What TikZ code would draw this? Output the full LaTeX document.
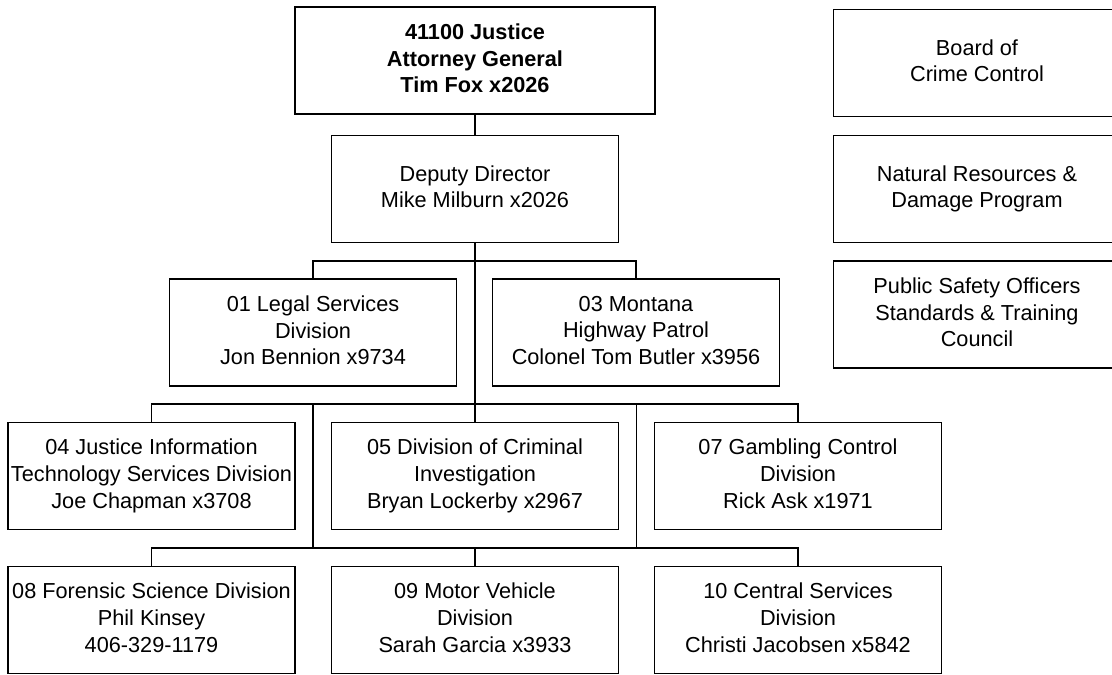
\documentclass[tikz,border=0pt]{standalone}
\usepackage{fontspec}
\setmainfont{Liberation Sans}
\newcommand\boxtopstrut{\rule{0pt}{25pt}}
\newcommand\boxbotstrut{\rule[-4.7pt]{0pt}{4.7pt}}
\begin{document}
\begin{tikzpicture}[x=1pt,y=-1pt,
  box/.style={draw, line width=1.1pt, minimum width=287pt, minimum height=107pt,
    inner sep=0pt, align=center, font=\fontsize{21.7}{26.7}\selectfont,
    execute at begin node=\boxtopstrut, execute at end node=\boxbotstrut},
  conn/.style={line width=1.1pt}]
\useasboundingbox (0,0) rectangle (1112,675);
\clip (0,0) rectangle (1112,675);
\fill[white] (0,0) rectangle (1112,675);
% top
\node[box, minimum width=360pt, font=\fontsize{21.7}{26.7}\selectfont\bfseries] (top) at (475,60.5)
  {41100 Justice\\Attorney General\\Tim Fox x2026};
\node[box] (dep) at (475,189) {Deputy Director\\Mike Milburn x2026};
\node[box] (leg) at (313,332.5) {01 Legal Services\\Division\\Jon Bennion x9734};
\node[box] (mon) at (636,332.5) {03 Montana\\Highway Patrol\\Colonel Tom Butler x3956};
% right column
\node[box] (bcc) at (977,63) {Board of\\Crime Control};
\node[box] (nrd) at (977,189) {Natural Resources \&\\Damage Program};
\node[box] (pso) at (977,314.5) {Public Safety Officers\\Standards \& Training\\Council};
% row 3
\node[box] (d04) at (151.5,476) {04 Justice Information\\Technology Services Division\\Joe Chapman x3708};
\node[box] (d05) at (475,476) {05 Division of Criminal\\Investigation\\Bryan Lockerby x2967};
\node[box] (d07) at (798,476) {07 Gambling Control\\Division\\Rick Ask x1971};
% row 4
\node[box] (d08) at (151.5,620) {08 Forensic Science Division\\Phil Kinsey\\406-329-1179};
\node[box] (d09) at (475,620) {09 Motor Vehicle\\Division\\Sarah Garcia x3933};
\node[box] (d10) at (798,620) {10 Central Services\\Division\\Christi Jacobsen x5842};
% bus coordinates
\coordinate (b1) at (475,261);
\coordinate (b2) at (475,404);
\coordinate (b3) at (475,548);
\coordinate (v1t) at (313,404);
\coordinate (v1b) at (313,548);
\coordinate (v2t) at (636.5,404);
\coordinate (v2b) at (636.5,548);
% connectors
\draw[conn] (top.south) -- (dep.north);
\draw[conn] (dep.south) -- (d05.north);
\draw[conn] (leg.north) |- (b1) -| (mon.north);
\draw[conn] (d04.north) |- (b2) -| (d07.north);
\draw[conn] (v1t) -- (v1b);
\draw[conn] (v2t) -- (v2b);
\draw[conn] (d08.north) |- (b3) -| (d10.north);
\draw[conn] (b3) -- (d09.north);
\end{tikzpicture}
\end{document}
